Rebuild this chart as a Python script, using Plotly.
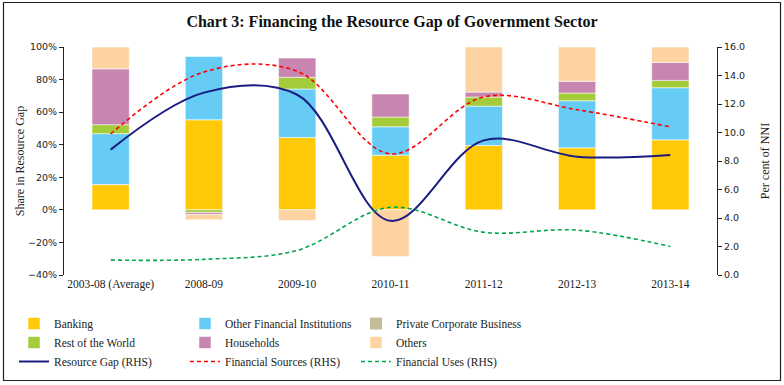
import plotly.graph_objects as go

categories = ["2003-08 (Average)", "2008-09", "2009-10", "2010-11", "2011-12", "2012-13", "2013-14"]

banking = [15.5, 55.3, 44.4, 33.6, 39.5, 38.1, 43.0]
other_fin_inst = [31.3, 38.9, 29.8, 17.4, 24.2, 28.9, 32.0]
private_corp = [0, 0, 0, 0, 0, 0, 0]
rest_of_world = [5.5, -1.6, 7.2, 6.0, 5.6, 4.7, 4.5]
households = [34.3, -1.2, 11.8, 14.1, 3.0, 7.2, 11.0]
others = [13.4, -3.3, -6.6, -28.7, 27.7, 21.1, 9.5]

resource_gap = [8.8, 12.8, 12.65, 3.8, 9.45, 8.3, 8.42]
financial_sources = [9.9, 14.25, 14.3, 8.5, 12.5, 11.6, 10.4]
financial_uses = [1.05, 1.1, 1.73, 4.75, 3.0, 3.15, 2.0]

SERIF = "Liberation Serif"
W, H = 784, 385
L, R, T, B = 64, 67, 47, 110
PW, PH = W - L - R, H - T - B

def px_x(p):
    return (p - L) / PW

def px_y(p):
    return (H - B - p) / PH

fig = go.Figure()

bar_series = [
    ("Banking", banking, "#FFC907", "legend", 1),
    ("Other Financial Institutions", other_fin_inst, "#66CCF5", "legend2", 1),
    ("Private Corporate Business", private_corp, "#C4BD97", "legend3", 0),
    ("Rest of the World", rest_of_world, "#A4CC3A", "legend", 1),
    ("Households", households, "#C885B0", "legend2", 1),
    ("Others", others, "#FCD3A1", "legend3", 1),
]
for name, vals, col, lg, lw in bar_series:
    fig.add_trace(go.Bar(
        x=categories, y=vals, name=name, legend=lg,
        marker=dict(color=col, line=dict(color="rgba(255,255,255,0.55)", width=lw)),
        width=0.4,
    ))

line_series = [
    ("Resource Gap (RHS)", resource_gap, "#1B1C80", "solid", 2, "legend"),
    ("Financial Sources (RHS)", financial_sources, "#FF0000", "4px,3px", 1.6, "legend2"),
    ("Financial Uses (RHS)", financial_uses, "#00A550", "4px,3px", 1.6, "legend3"),
]
for name, vals, col, dash, wd, lg in line_series:
    fig.add_trace(go.Scatter(
        x=categories, y=vals, name=name, legend=lg, yaxis="y2", mode="lines",
        line=dict(color=col, dash=dash, width=wd, shape="spline", smoothing=1.0),
    ))

legend_common = dict(
    orientation="v", yanchor="top", xanchor="left",
    font=dict(family=SERIF, size=11.5, color="#222"),
    bgcolor="rgba(0,0,0,0)", itemwidth=30, tracegroupgap=0,
)
leg_top = px_y(309)

fig.update_layout(
    width=W, height=H,
    margin=dict(l=L, r=R, t=T, b=B, autoexpand=False),
    paper_bgcolor="white", plot_bgcolor="white",
    barmode="relative",
    bargap=0.6,
    title=dict(
        text="<b>Chart 3: Financing the Resource Gap of Government Sector</b>",
        x=0.5, xanchor="center", y=1 - 21 / H, yanchor="middle",
        font=dict(family=SERIF, size=16, color="#111"),
    ),
    xaxis=dict(
        type="category", categoryorder="array", categoryarray=categories,
        range=[-0.5, 6.5], showline=False, ticks="", showgrid=False, automargin=False,
        tickfont=dict(family=SERIF, size=11.5, color="#222"),
    ),
    xaxis2=dict(
        overlaying="x", anchor="free", position=40 / 140,
        range=[-0.5, 6.5], tickvals=[0.5, 1.5, 2.5, 3.5, 4.5, 5.5],
        showticklabels=False, ticks="outside", ticklen=4, tickcolor="#222",
        showline=True, linecolor="#222", linewidth=1, showgrid=False, zeroline=False,
    ),
    yaxis=dict(
        range=[-40, 100], dtick=20, ticksuffix="%", showgrid=False, automargin=False,
        zeroline=False, showline=True, linecolor="#222", linewidth=1,
        ticks="outside", ticklen=4, tickcolor="#222",
        tickfont=dict(family="DejaVu Sans", size=9.5, color="#222"),
        title=dict(text="Share in Resource Gap", font=dict(family=SERIF, size=12, color="#222"), standoff=0),
    ),
    yaxis2=dict(
        range=[0, 16], dtick=2, tickformat=".1f", overlaying="y", side="right",
        showgrid=False, zeroline=False, showline=True, linecolor="#222", linewidth=1,
        ticks="outside", ticklen=4, tickcolor="#222", automargin=False,
        tickfont=dict(family="DejaVu Sans", size=9.5, color="#222"),
        title=dict(text="Per cent of NNI", font=dict(family=SERIF, size=12, color="#222"), standoff=16),
    ),
    legend=dict(x=px_x(14), y=leg_top, **legend_common),
    legend2=dict(x=px_x(185), y=leg_top, **legend_common),
    legend3=dict(x=px_x(356), y=leg_top, **legend_common),
    shapes=[dict(
        type="rect", xref="paper", yref="paper",
        x0=px_x(3.5), x1=px_x(780.5), y0=px_y(380.5), y1=px_y(2.5),
        line=dict(color="#222", width=1.2), fillcolor="rgba(0,0,0,0)", layer="below",
    )],
)

fig.write_html(
    "out.html",
    config={"displayModeBar": False},
    post_script="document.body.style.margin='0';document.body.style.overflow='hidden';",
)
